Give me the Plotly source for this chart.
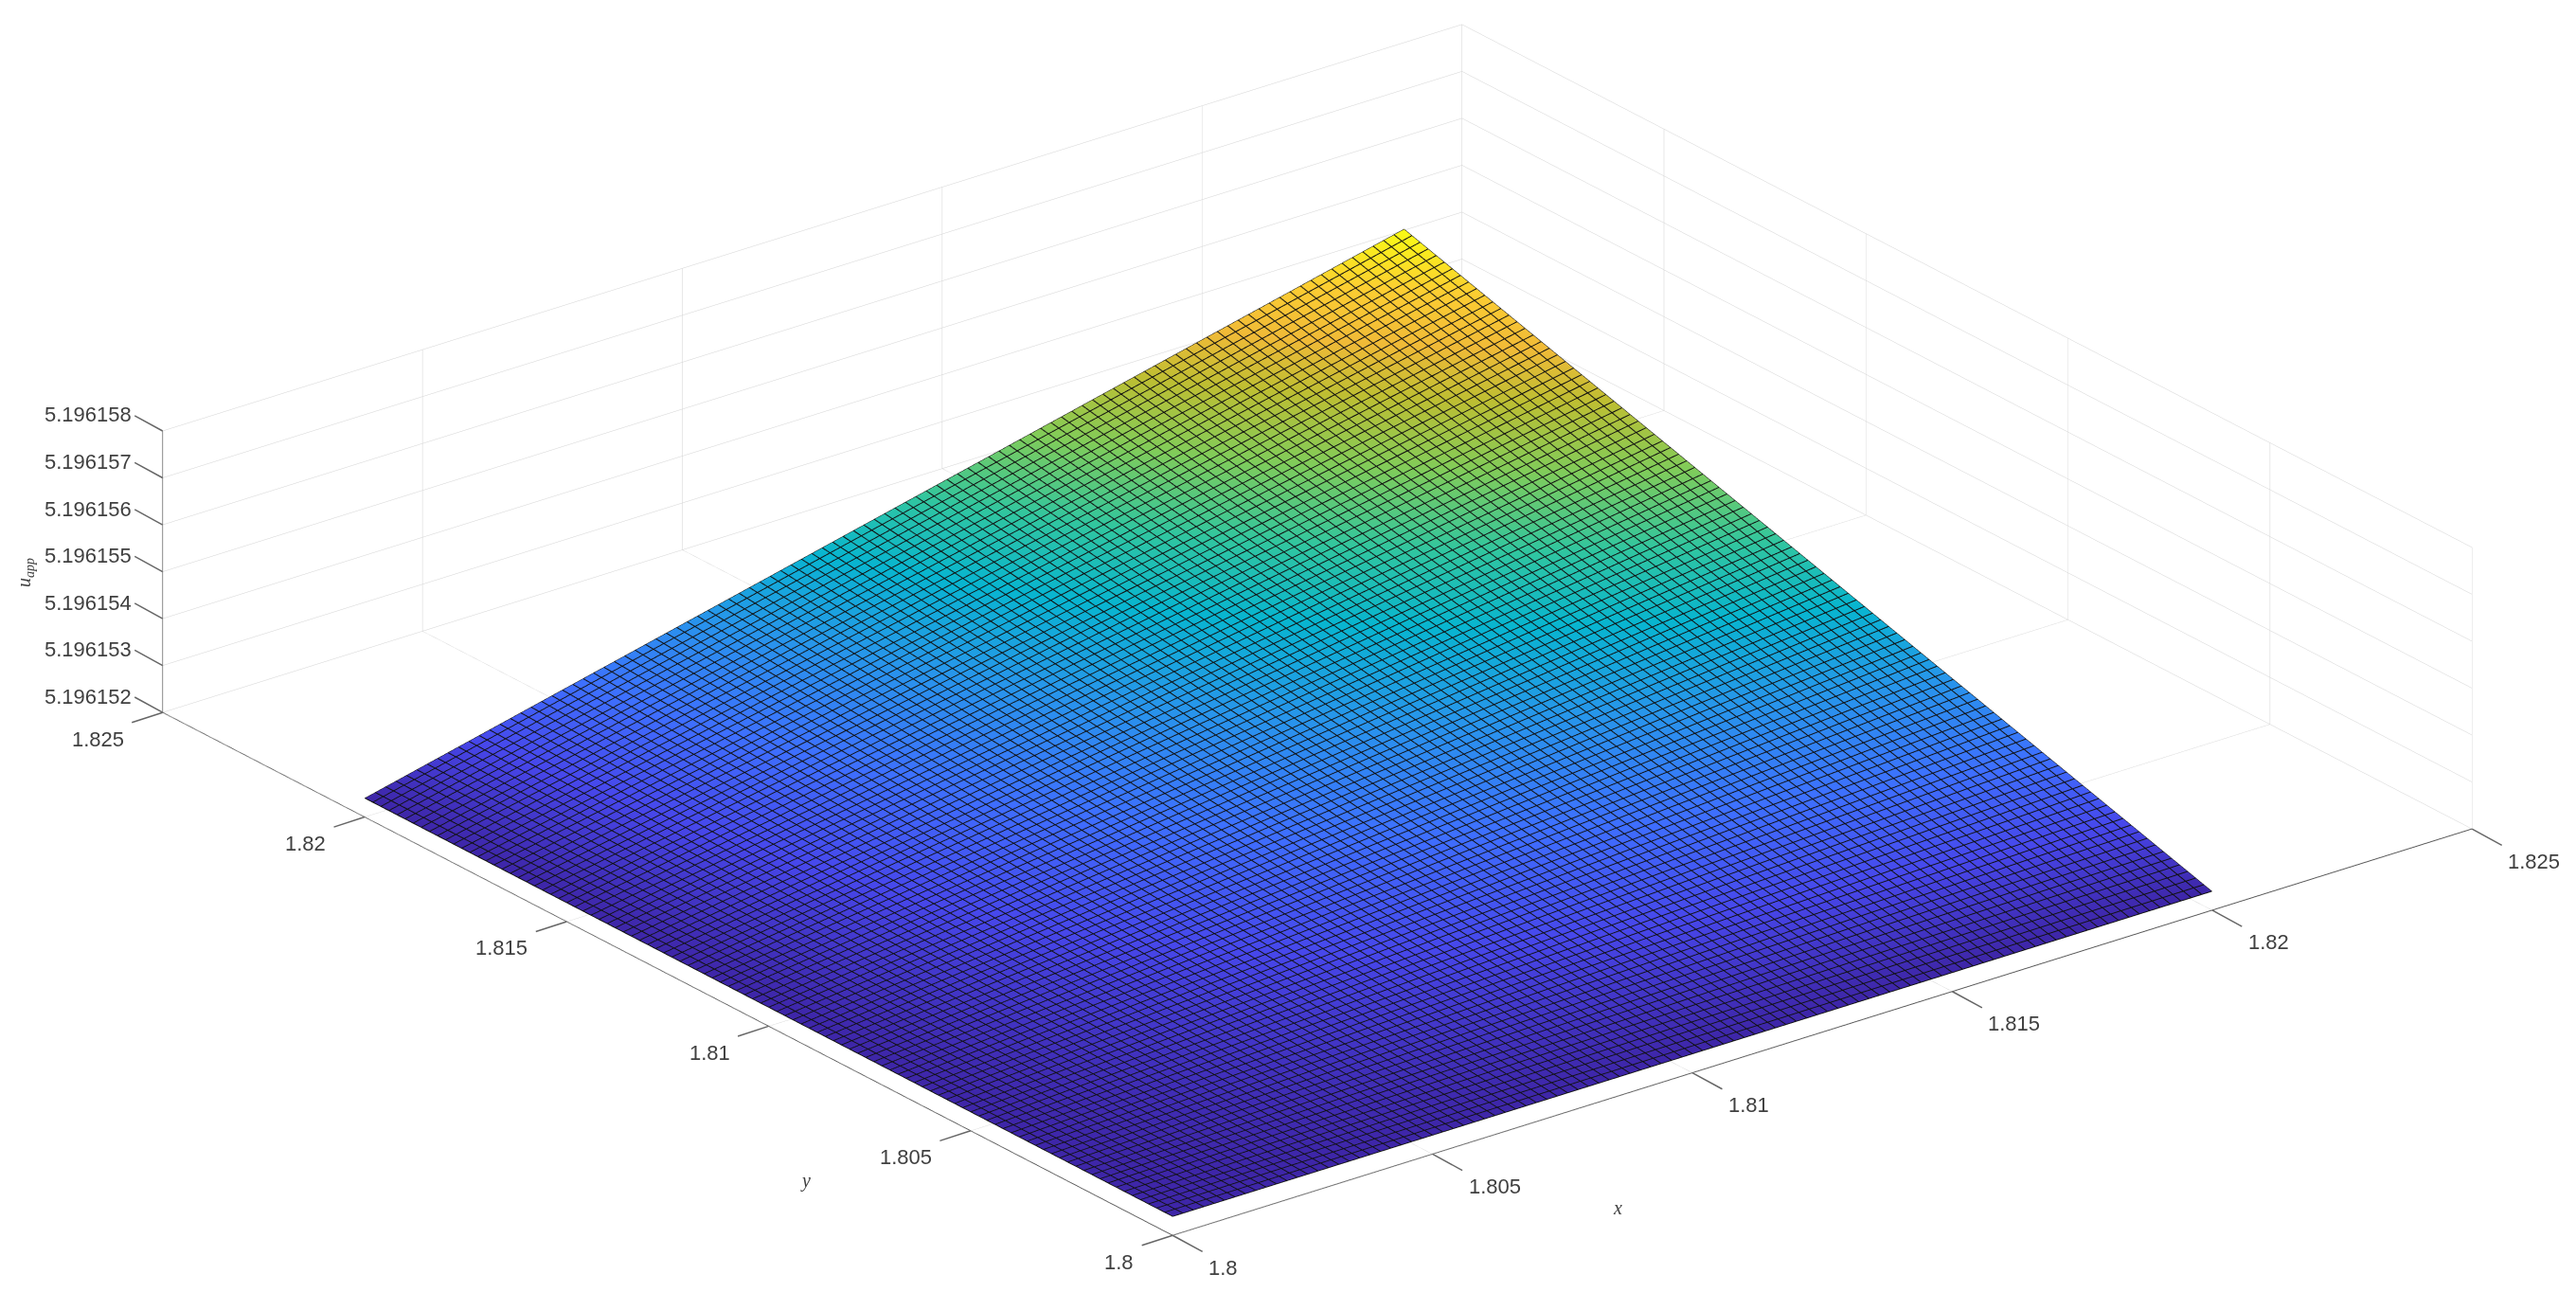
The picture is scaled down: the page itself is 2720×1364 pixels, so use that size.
import plotly.graph_objects as go

x_vals = [1.800, 1.802, 1.804, 1.806, 1.808, 1.810, 1.812, 1.814, 1.816, 1.818, 1.820]
y_vals = [1.800, 1.802, 1.804, 1.806, 1.808, 1.810, 1.812, 1.814, 1.816, 1.818, 1.820]
# u_app, in units of 1e-6 above 5.196152
z_micro = [
    [.400, .400, .400, .400, .400, .400, .400, .400, .400, .400, .400],
    [.400, .452, .504, .556, .608, .660, .712, .764, .816, .868, .920],
    [.400, .504, .608, .712, .816, .920, 1.024, 1.128, 1.232, 1.336, 1.440],
    [.400, .556, .712, .868, 1.024, 1.180, 1.336, 1.492, 1.648, 1.804, 1.960],
    [.400, .608, .816, 1.024, 1.232, 1.440, 1.648, 1.856, 2.064, 2.272, 2.480],
    [.400, .660, .920, 1.180, 1.440, 1.700, 1.960, 2.220, 2.480, 2.740, 3.000],
    [.400, .712, 1.024, 1.336, 1.648, 1.960, 2.272, 2.584, 2.896, 3.208, 3.520],
    [.400, .764, 1.128, 1.492, 1.856, 2.220, 2.584, 2.948, 3.312, 3.676, 4.040],
    [.400, .816, 1.232, 1.648, 2.064, 2.480, 2.896, 3.312, 3.728, 4.144, 4.560],
    [.400, .868, 1.336, 1.804, 2.272, 2.740, 3.208, 3.676, 4.144, 4.612, 5.080],
    [.400, .920, 1.440, 1.960, 2.480, 3.000, 3.520, 4.040, 4.560, 5.080, 5.600],
]
xy_ticks = [1.8, 1.805, 1.81, 1.815, 1.82, 1.825]
xy_labels = ["1.8", "1.805", "1.81", "1.815", "1.82", "1.825"]
z_ticks = [0, 1, 2, 3, 4, 5, 6]
z_labels = ["5.196152", "5.196153", "5.196154", "5.196155", "5.196156", "5.196157", "5.196158"]

parula = [
    [0.0, "rgb(62,38,168)"], [0.1, "rgb(71,71,235)"], [0.2, "rgb(62,111,255)"],
    [0.32, "rgb(39,150,235)"], [0.43, "rgb(8,181,208)"], [0.53, "rgb(49,198,159)"],
    [0.64, "rgb(129,204,89)"], [0.74, "rgb(190,190,50)"], [0.82, "rgb(240,186,55)"],
    [0.9, "rgb(252,205,50)"], [1.0, "rgb(249,251,21)"],
]

def mesh(start, end):
    return dict(
        x=dict(show=True, start=start, end=end, size=0.0002, color="#101010", width=1),
        y=dict(show=True, start=start, end=end, size=0.0002, color="#101010", width=1),
    )

surf = go.Surface(
    x=x_vals, y=y_vals, z=z_micro, colorscale=parula, showscale=False,
    cmin=0.4, cmax=5.6,
    lighting=dict(ambient=1, diffuse=0, specular=0, roughness=1, fresnel=0),
    contours=mesh(1.8, 1.8201),
    hoverinfo="skip",
)
# same surface again, lines only and about one pixel over: WebGL draws 1 px lines, the mesh is 2 px wide
surf_lines = go.Surface(
    x=x_vals, y=y_vals, z=z_micro, colorscale=parula, showscale=False,
    cmin=0.4, cmax=5.6, hidesurface=True,
    contours=mesh(1.80001, 1.8199),
    hoverinfo="skip",
)

def axis(tickvals, rng):
    return dict(
        title=dict(text=""), range=rng, tickvals=tickvals, showticklabels=False,
        showbackground=False, showgrid=True, gridcolor="#d2d2d2", gridwidth=1,
        showline=True, linecolor="#555555", linewidth=2, zeroline=False,
        ticks="", showspikes=False,
    )

tick_font = dict(family="Liberation Sans", size=22, color="#404040")
TICK = dict(showarrow=True, arrowhead=0, arrowwidth=1.5, arrowcolor="#666666", text=" ",
            font=dict(size=1), standoff=0, startstandoff=0)
notes = []
for v, t in zip(xy_ticks, xy_labels):
    notes.append(dict(x=v, y=1.8, z=0, text=t, showarrow=False, xanchor="left", yanchor="middle",
                      xshift=36, yshift=-34, font=tick_font))
    notes.append(dict(x=v, y=1.8, z=0, ax=33, ay=18, **TICK))
    notes.append(dict(x=1.8, y=v, z=0, text=t, showarrow=False, xanchor="right", yanchor="middle",
                      xshift=-39, yshift=-28, font=tick_font))
    notes.append(dict(x=1.8, y=v, z=0, ax=-34, ay=11, **TICK))
for v, t in zip(z_ticks, z_labels):
    notes.append(dict(x=1.8, y=1.825, z=v, text=t, showarrow=False, xanchor="right", yanchor="middle",
                      xshift=-31, yshift=17, font=tick_font))
    notes.append(dict(x=1.8, y=1.825, z=v, ax=-31, ay=-17, **TICK))

title_font = dict(family="Liberation Serif", size=20, color="#404040")
fig = go.Figure([surf, surf_lines])
fig.update_layout(
    width=2720, height=1364, margin=dict(l=0, r=0, t=0, b=0),
    paper_bgcolor="white", showlegend=False,
    scene=dict(
        xaxis=axis(xy_ticks, [1.8, 1.825]),
        yaxis=axis(xy_ticks, [1.8, 1.825]),
        zaxis=axis(z_ticks, [0, 6]),
        aspectmode="manual", aspectratio=dict(x=2.548, y=2.548, z=0.476),
        camera=dict(
            projection=dict(type="orthographic"),
            eye=dict(x=-2.8456, y=-3.606, z=1.979),
            up=dict(x=0, y=0, z=1),
            center=dict(x=-0.0356, y=0.00903, z=-0.0335),
        ),
        annotations=notes,
    ),
    annotations=[
        dict(text="<i>x</i>", x=1700/2720, y=1-1267/1364, xref="paper", yref="paper", showarrow=False,
             xanchor="center", yanchor="middle", font=title_font),
        dict(text="<i>y</i>", x=842/2720, y=1-1238/1364, xref="paper", yref="paper", showarrow=False,
             xanchor="center", yanchor="middle", font=title_font),
        dict(text="<i>u<sub>app</sub></i>", x=18/2720, y=1-597/1364, xref="paper", yref="paper", showarrow=False,
             xanchor="center", yanchor="middle", textangle=-90, font=title_font),
    ],
)
fig.write_html("out.html")
